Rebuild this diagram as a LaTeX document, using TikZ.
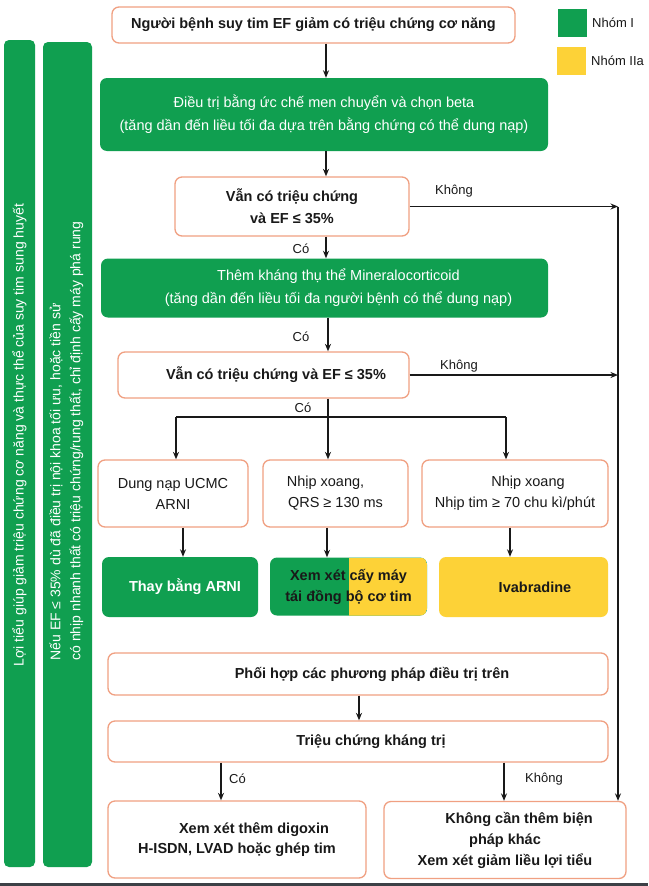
\documentclass[tikz,border=0pt]{standalone}
\usepackage{fontspec}
\setmainfont{Liberation Sans}
\usetikzlibrary{arrows.meta}
\definecolor{grn}{RGB}{16,159,80}
\definecolor{ylw}{RGB}{253,210,55}
\definecolor{sal}{RGB}{240,160,130}
\definecolor{ink}{RGB}{25,25,25}
\definecolor{strip}{RGB}{60,64,70}
\tikzset{
  obox/.style={draw=sal, line width=1.3pt, rounded corners=7pt, fill=white, inner sep=0pt, align=center, text=ink, font=\fontsize{14.5}{21}\selectfont},
  obold/.style={obox, font=\fontsize{14.5}{21}\selectfont\bfseries},
  gbox/.style={fill=grn, rounded corners=7pt, inner sep=0pt, align=center, text=white, font=\fontsize{14.5}{23}\selectfont},
  ybox/.style={fill=ylw, rounded corners=7pt, inner sep=0pt, align=center, text=ink, font=\fontsize{14.5}{21}\selectfont\bfseries},
  bar/.style={fill=grn, rounded corners=5pt, draw=none},
  bartext/.style={rotate=90, text=white, align=center, font=\fontsize{14}{20}\selectfont},
  arr/.style={-{Stealth[length=7.5pt,width=6pt]}, line width=1.2pt, draw=ink},
  ln/.style={line width=1.2pt, draw=ink},
  lbl/.style={font=\fontsize{13}{15}\selectfont, text=ink, inner sep=0pt},
  legtext/.style={font=\fontsize{13}{15}\selectfont, text=ink, anchor=west, inner sep=0pt}
}
\begin{document}
\begin{tikzpicture}[x=1pt, y=-1pt]
\useasboundingbox (0,0) rectangle (648,886);
\fill[white] (0,0) rectangle (648,886);
\fill[strip] (0,883) rectangle (648,886);

% side bars
\path[bar] (4,40) rectangle (35,867);
\path[bar] (43,42) rectangle (92,867);
\node[bartext] (s1) at (19.5,435) {Lợi tiểu giúp giảm triệu chứng cơ năng và thực thể của suy tim sung huyết};
\node[bartext, align=left] (s2) at (66.5,441) {Nếu EF ≤ 35\% dù đã điều trị nội khoa tối ưu, hoặc tiền sử\\có nhịp nhanh thất có triệu chứng/rung thất, chỉ định cấy máy phá rung};

% legend
\fill[grn] (558,9) rectangle (587,37);
\fill[ylw] (557,47) rectangle (586,75);
\node[legtext] (l1) at (592,23) {Nhóm I};
\node[legtext] (l2) at (591,61) {Nhóm IIa};

% main boxes
\node[obold, minimum width=403, minimum height=36] (T) at (313.5,25) {Người bệnh suy tim EF giảm có triệu chứng cơ năng};
\node[gbox, minimum width=448, minimum height=73] (G1) at (324,114.5) {Điều trị bằng ức chế men chuyển và chọn beta\\(tăng dần đến liều tối đa dựa trên bằng chứng có thể dung nạp)};
\node[obold, minimum width=234, minimum height=59, font=\fontsize{14.5}{22}\selectfont\bfseries] (D1) at (292,206.5) {Vẫn có triệu chứng\\và EF ≤ 35\%};
\node[gbox, minimum width=447, minimum height=59] (G2) at (324.5,288) {\hspace*{28pt}Thêm kháng thụ thể Mineralocorticoid\\\hspace*{28pt}(tăng dần đến liều tối đa người bệnh có thể dung nạp)};
\node[obold, minimum width=291, minimum height=46] (D2) at (263.5,375) {\hspace*{25pt}Vẫn có triệu chứng và EF ≤ 35\%};

\node[obox, minimum width=150, minimum height=67] (A) at (173,493.5) {Dung nạp UCMC\\ARNI};
\node[obox, minimum width=145, minimum height=67] (B) at (335.5,493.5) {Nhịp xoang,\hspace*{20pt}\\QRS ≥ 130 ms};
\node[obox, minimum width=186, minimum height=67] (C) at (515,493.5) {\hspace*{26pt}Nhịp xoang\\Nhịp tim ≥ 70 chu kì/phút};

\node[gbox, minimum width=156, minimum height=60, font=\fontsize{14.5}{21}\selectfont\bfseries] (GA) at (180,587) {\hspace*{10pt}Thay bằng ARNI};
\node[gbox, minimum width=157, minimum height=58, text=ink, font=\fontsize{14.5}{21}\selectfont\bfseries,
  path picture={\fill[ylw, sharp corners] ([xshift=0.5pt]path picture bounding box.north) rectangle (path picture bounding box.south east);}] (GB) at (348.5,586.5) {Xem xét cấy máy\\tái đồng bộ cơ tim};
\node[ybox, minimum width=169, minimum height=60] (GY) at (523.5,587) {\hspace*{23pt}Ivabradine};

\node[obold, minimum width=500, minimum height=42] (P) at (358,674) {\hspace*{28pt}Phối hợp các phương pháp điều trị trên};
\node[obold, minimum width=500, minimum height=41] (K) at (358,741.5) {\hspace*{26pt}Triệu chứng kháng trị};
\node[obold, minimum width=258, minimum height=77, font=\fontsize{14.5}{20}\selectfont\bfseries] (BL) at (237,839.5) {\hspace*{34pt}Xem xét thêm digoxin\\H-ISDN, LVAD hoặc ghép tim};
\node[obold, minimum width=242, minimum height=77] (BR) at (505,840) {\hspace*{28pt}Không cần thêm biện\\pháp khác\hspace*{46pt}\\Xem xét giảm liều lợi tiểu};

% column coordinates
\coordinate (xm) at (326,0);
\coordinate (xm2) at (328,0);
\coordinate (brl) at (176,417);
\coordinate (brr) at (506,417);

% connectors
\draw[arr] (T.south -| xm) -- (G1.north -| xm);
\draw[arr] (G1.south -| xm) -- (D1.north -| xm);
\draw[arr] (D1.south -| xm) -- (G2.north -| xm);
\draw[arr] (G2.south -| xm2) -- (D2.north -| xm2);
\draw[arr] (D2.south -| xm2) -- (B.north -| xm2);
\draw[ln] (brl) -- (brr);
\draw[arr] (brl) -- (A.north -| brl);
\draw[arr] (brr) -- (C.north -| brr);
\node[lbl] (c3) at (303,408) {Có};
\node[lbl] (c1) at (301,249) {Có};
\node[lbl] (c2) at (301,337) {Có};

\coordinate (xA) at (183,0);
\coordinate (xB) at (327,0);
\coordinate (xC) at (510,0);
\draw[arr] (A.south -| xA) -- (GA.north -| xA);
\draw[arr] (B.south -| xB) -- (GB.north -| xB);
\draw[arr] (C.south -| xC) -- (GY.north -| xC);

\coordinate (xr) at (618,0);
\draw[arr] (D1.east) -- (D1.east -| xr);
\draw[arr] (D2.east) -- (D2.east -| xr);
\draw[arr] (D1.east -| xr) -- (BR.north -| xr);
\node[lbl] (n1) at (454,191) {Không};
\node[lbl] (n2) at (459,366) {Không};

\coordinate (xP) at (359,0);
\coordinate (xL) at (221,0);
\coordinate (xR) at (504,0);
\draw[arr] (P.south -| xP) -- (K.north -| xP);
\draw[arr] (K.south -| xL) -- (BL.north -| xL);
\draw[arr] (K.south -| xR) -- (BR.north -| xR);
\node[lbl, anchor=west] (c4) at (229,779) {Có};
\node[lbl, anchor=west] (n3) at (525,779) {Không};
\end{tikzpicture}
\end{document}
